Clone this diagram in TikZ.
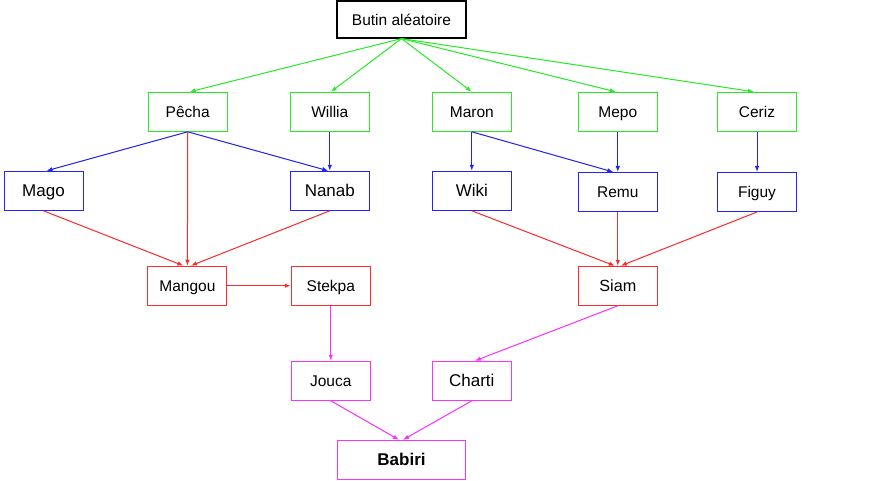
\documentclass[tikz,border=0pt]{standalone}
\usepackage{fontspec}
\setmainfont{Liberation Sans}
\usetikzlibrary{arrows.meta}
\definecolor{cgreen}{RGB}{40,235,40}
\definecolor{cblue}{RGB}{35,35,245}
\definecolor{cred}{RGB}{250,45,45}
\definecolor{cmag}{RGB}{250,50,250}
\tikzset{
  box/.style={draw, rectangle, line width=1pt, inner sep=0pt, minimum width=79pt, minimum height=39pt, text height=11.2pt, text depth=0pt, font=\fontsize{15.5}{18}\selectfont},
  big/.style={text height=12.2pt, font=\fontsize{17}{20}\selectfont},
  gbox/.style={box, draw=cgreen},
  bbox/.style={box, draw=cblue},
  rbox/.style={box, draw=cred},
  mbox/.style={box, draw=cmag},
  conn/.style={line width=1pt, -{Latex[length=6pt,width=4.5pt]}},
  gar/.style={conn, draw=cgreen, fill=cgreen},
  bar/.style={conn, draw=cblue, fill=cblue},
  rar/.style={conn, draw=cred, fill=cred},
  mar/.style={conn, draw=cmag, fill=cmag},
}
\begin{document}
\begin{tikzpicture}[x=1pt,y=-1pt]
\useasboundingbox (0,0) rectangle (893,481);
\node[box, draw=black, line width=1.2pt, minimum width=129pt, minimum height=37pt] (butin) at (401.5,19.5) {Butin aléatoire};
\node[gbox] (pecha) at (187.7,111.8) {Pêcha};
\node[gbox] (willia) at (329.8,111.8) {Willia};
\node[gbox] (maron) at (471.8,111.8) {Maron};
\node[gbox] (mepo) at (617.8,111.8) {Mepo};
\node[gbox] (ceriz) at (757,111.8) {Ceriz};
\node[bbox, big] (mago) at (43.5,190.8) {Mago};
\node[bbox, big] (nanab) at (329.8,190.8) {Nanab};
\node[bbox, big] (wiki) at (471.8,190.8) {Wiki};
\node[bbox] (remu) at (617.8,192) {Remu};
\node[bbox] (figuy) at (757,192) {Figuy};
\node[rbox] (mangou) at (187.4,285.7) {Mangou};
\node[rbox] (stekpa) at (330.8,285.7) {Stekpa};
\node[rbox, text height=11.7pt, font=\fontsize{16.2}{19}\selectfont] (siam) at (617.8,285.8) {Siam};
\node[mbox] (jouca) at (330.8,380.8) {Jouca};
\node[mbox, big] (charti) at (471.8,380.8) {Charti};
\node[mbox, big, minimum width=128pt, font=\fontsize{17}{20}\selectfont\bfseries] (babiri) at (401.5,459.8) {Babiri};
% green
\draw[gar] (butin.south) -- ([xshift=2pt]pecha.north);
\draw[gar] (butin.south) -- ([xshift=1pt]willia.north);
\draw[gar] (butin.south) -- (maron.north);
\draw[gar] (butin.south) -- ([xshift=-2pt]mepo.north);
\draw[gar] (butin.south) -- ([xshift=-3pt]ceriz.north);
% blue
\draw[bar] (pecha.south) -- ([xshift=3pt]mago.north);
\draw[bar] (pecha.south) -- ([xshift=-1.5pt]nanab.north);
\draw[bar] (willia.south) -- (nanab.north);
\draw[bar] (maron.south) -- (wiki.north);
\draw[bar] (maron.south) -- ([xshift=-4.5pt]remu.north);
\draw[bar] (mepo.south) -- (remu.north);
\draw[bar] (ceriz.south) -- (figuy.north);
% red
\draw[rar] (mago.south) -- ([xshift=-4pt]mangou.north);
\draw[rar] (pecha.south) -- (mangou.north);
\draw[rar] (nanab.south) -- ([xshift=3.5pt]mangou.north);
\draw[rar] (mangou.east) -- (stekpa.west);
\draw[rar] (wiki.south) -- ([xshift=-3pt]siam.north);
\draw[rar] (remu.south) -- (siam.north);
\draw[rar] (figuy.south) -- ([xshift=3pt]siam.north);
% magenta
\draw[mar] (siam.south) -- ([xshift=3pt]charti.north);
\draw[mar] (stekpa.south) -- (jouca.north);
\draw[mar] (jouca.south) -- ([xshift=-2.5pt]babiri.north);
\draw[mar] (charti.south) -- ([xshift=1.5pt]babiri.north);
\end{tikzpicture}
\end{document}
